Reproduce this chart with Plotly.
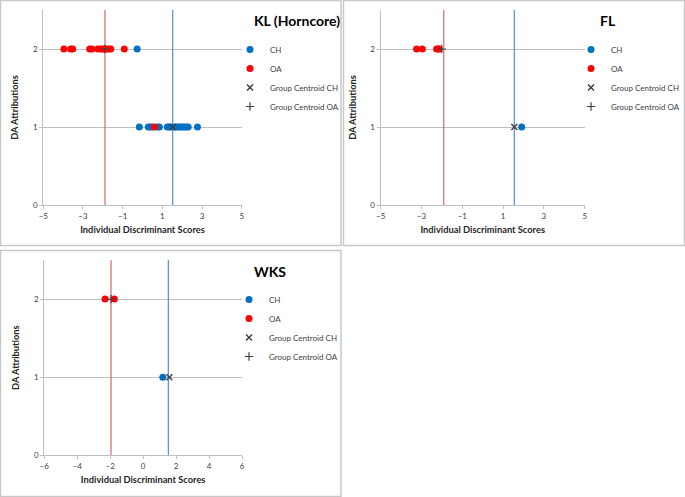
import plotly.graph_objects as go

# ---------------- data ----------------
# KL (Horncore)
kl_ch_x = [-0.27, -0.16, 0.29, 0.38, 0.48, 0.77, 0.85, 1.25, 1.35, 1.45, 1.6, 1.7, 1.8, 1.9, 2.0, 2.1, 2.2, 2.3, 2.77]
kl_ch_y = [2, 1, 1, 1, 1, 1, 1, 1, 1, 1, 1, 1, 1, 1, 1, 1, 1, 1, 1]
kl_oa_x = [-3.96, -3.62, -3.52, -2.66, -2.55, -2.25, -2.1, -2.0, -1.9, -1.8, -1.7, -1.6, -0.92, 0.6]
kl_oa_y = [2, 2, 2, 2, 2, 2, 2, 2, 2, 2, 2, 2, 2, 1]
kl_cent_ch = (1.52, 1)
kl_cent_oa = (-1.9, 2)
kl_lines = (-1.89, 1.52)

# FL
fl_ch_x = [1.91]
fl_ch_y = [1]
fl_oa_x = [-3.24, -2.96, -2.26, -2.18, -2.13]
fl_oa_y = [2, 2, 2, 2, 2]
fl_cent_ch = (1.55, 1)
fl_cent_oa = (-2.01, 2)
fl_lines = (-1.91, 1.55)

# WKS
wks_ch_x = [1.19]
wks_ch_y = [1]
wks_oa_x = [-2.31, -1.75]
wks_oa_y = [2, 2]
wks_cent_ch = (1.59, 1)
wks_cent_oa = (-1.95, 2)
wks_lines = (-1.95, 1.53)

titles = ["KL (Horncore)", "FL", "WKS"]
x_ranges = [[-5, 5], [-5, 5], [-6, 6]]
x_ticks = [[-5, -3, -1, 1, 3, 5], [-5, -3, -1, 1, 3, 5], [-6, -4, -2, 0, 2, 4, 6]]
y_ticks = [0, 1, 2]

# ---------------- layout helpers ----------------
W, H = 685, 497
def px(x):
    return x / W
def py(y):
    return 1 - y / H

FONT = "Lato, 'Open Sans', sans-serif"
BLUE = "#0070C0"
RED = "#FF0000"
GRID = "#BFBFBF"

panels = [
    dict(data=(kl_ch_x, kl_ch_y, kl_oa_x, kl_oa_y, kl_cent_ch, kl_cent_oa, kl_lines),
         dom_x=(43.3, 241.7), dom_y=(10, 205), box=(0.5, 0.5, 341, 245.5),
         title_xy=(252, 20), leg_xy=(230, 35)),
    dict(data=(fl_ch_x, fl_ch_y, fl_oa_x, fl_oa_y, fl_cent_ch, fl_cent_oa, fl_lines),
         dom_x=(380.7, 584.7), dom_y=(10, 205), box=(343.5, 0.5, 684.5, 245.5),
         title_xy=(598, 20), leg_xy=(571, 35)),
    dict(data=(wks_ch_x, wks_ch_y, wks_oa_x, wks_oa_y, wks_cent_ch, wks_cent_oa, wks_lines),
         dom_x=(44.3, 242), dom_y=(260, 455.3), box=(0.5, 250.5, 341, 496.5),
         title_xy=(252, 271), leg_xy=(229, 285)),
]

fig = go.Figure()
annotations = []
shapes = []
layout_axes = {}

for i, p in enumerate(panels):
    n = "" if i == 0 else str(i + 1)
    xa, ya = "x" + n, "y" + n
    leg = "legend" + n
    ch_x, ch_y, oa_x, oa_y, cch, coa, lines = p["data"]

    fig.add_trace(go.Scatter(x=[lines[0], lines[0]], y=[0, 2.5], mode="lines",
                             line=dict(color="rgba(200,70,70,0.75)", width=1.3),
                             showlegend=False, hoverinfo="skip", xaxis=xa, yaxis=ya))
    fig.add_trace(go.Scatter(x=[lines[1], lines[1]], y=[0, 2.5], mode="lines",
                             line=dict(color="rgba(70,130,200,0.85)", width=1.3),
                             showlegend=False, hoverinfo="skip", xaxis=xa, yaxis=ya))

    fig.add_trace(go.Scatter(x=ch_x, y=ch_y, mode="markers", name="CH",
                             marker=dict(color=BLUE, size=7),
                             xaxis=xa, yaxis=ya, legend=leg))
    fig.add_trace(go.Scatter(x=oa_x, y=oa_y, mode="markers", name="OA",
                             marker=dict(color=RED, size=7),
                             xaxis=xa, yaxis=ya, legend=leg))
    fig.add_trace(go.Scatter(x=[cch[0]], y=[cch[1]], mode="markers", name="Group Centroid CH",
                             marker=dict(symbol="x-thin", size=6, line=dict(color="#404040", width=1.5)),
                             xaxis=xa, yaxis=ya, legend=leg))
    fig.add_trace(go.Scatter(x=[coa[0]], y=[coa[1]], mode="markers", name="Group Centroid OA",
                             marker=dict(symbol="cross-thin", size=6, line=dict(color="#404040", width=1.2)),
                             xaxis=xa, yaxis=ya, legend=leg))

    layout_axes["xaxis" + n] = dict(
        domain=[px(p["dom_x"][0]), px(p["dom_x"][1])], anchor=ya,
        range=x_ranges[i], tickvals=x_ticks[i], showgrid=False, zeroline=False,
        showline=True, linecolor=GRID, linewidth=1.2, ticks="outside", ticklen=3,
        tickcolor=GRID, tickfont=dict(size=8, color="#404040", family=FONT),
        title=dict(text="<b>Individual Discriminant Scores</b>", standoff=6,
                   font=dict(size=9.3, color="#262626", family=FONT)),
        fixedrange=True, automargin=False)
    layout_axes["yaxis" + n] = dict(
        domain=[py(p["dom_y"][1]), py(p["dom_y"][0])], anchor=xa,
        range=[0, 2.5], tickvals=y_ticks, showgrid=True, gridcolor=GRID, gridwidth=1.2,
        zeroline=False, showline=True, linecolor=GRID, linewidth=1.2,
        ticks="outside", ticklen=3, tickcolor=GRID,
        tickfont=dict(size=8, color="#404040", family=FONT),
        title=dict(text="<b>DA Attributions</b>", standoff=12,
                   font=dict(size=9.3, color="#262626", family=FONT)),
        fixedrange=True, automargin=False)
    layout_axes[leg] = dict(
        x=px(p["leg_xy"][0]), y=py(p["leg_xy"][1]), xanchor="left", yanchor="top",
        font=dict(size=8, color="#404040", family=FONT), bgcolor="rgba(0,0,0,0)",
        itemwidth=30, tracegroupgap=0)

    annotations.append(dict(text="<b>" + titles[i] + "</b>", x=px(p["title_xy"][0]),
                            y=py(p["title_xy"][1]), xref="paper", yref="paper",
                            xanchor="left", yanchor="middle", showarrow=False,
                            font=dict(size=14, color="#000000", family=FONT)))
    b = p["box"]
    shapes.append(dict(type="rect", xref="paper", yref="paper",
                       x0=px(b[0]), x1=px(b[2]), y0=py(b[3]), y1=py(b[1]),
                       line=dict(color="#C8C8C8", width=1.5), layer="below"))

fig.update_layout(
    width=W, height=H, margin=dict(l=0, r=0, t=0, b=0, autoexpand=False),
    paper_bgcolor="white", plot_bgcolor="white",
    annotations=annotations, shapes=shapes, showlegend=True,
    font=dict(family=FONT),
    **layout_axes,
)

fig.write_html("out.html", post_script="document.body.style.margin='0';",
               config={"displayModeBar": False})
